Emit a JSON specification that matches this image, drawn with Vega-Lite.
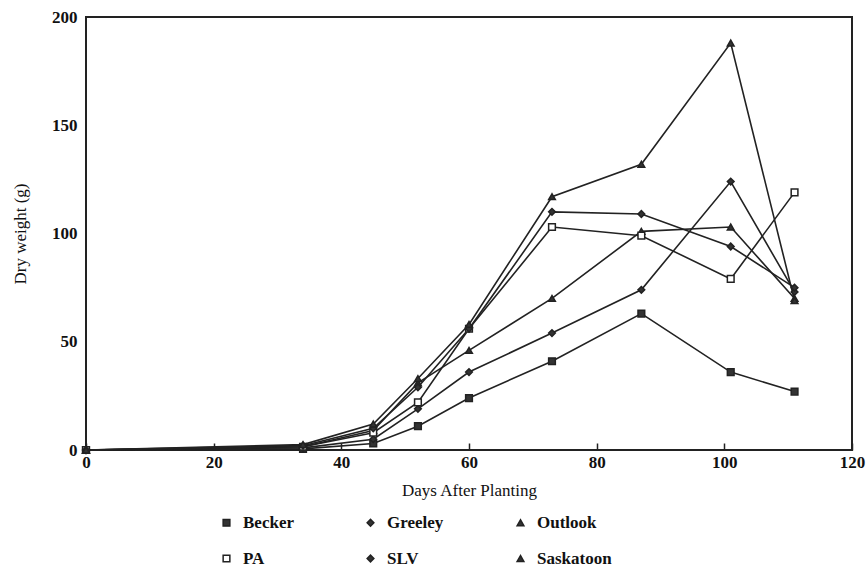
{
  "$schema": "https://vega.github.io/schema/vega-lite/v6.json",
  "width": 766,
  "height": 433,
  "padding": {"left": 86, "top": 17, "right": 16, "bottom": 136},
  "autosize": {"type": "none"},
  "background": "white",
  "config": {
    "font": "Liberation Serif",
    "view": {"stroke": "#222", "strokeWidth": 2},
    "axis": {"labelFont": "Liberation Serif", "titleFont": "Liberation Serif", "labelFontSize": 17, "titleFontSize": 17, "labelColor": "#111", "titleColor": "#111", "titleFontWeight": "normal", "labelFontWeight": "bold", "grid": false, "domain": false},
    "legend": {"labelFont": "Liberation Serif", "labelFontSize": 17, "labelFontWeight": "bold", "labelColor": "#111"}
  },
  "data": {"values": [
    {"site": "Becker", "day": 0, "weight": 0}, {"site": "Becker", "day": 34, "weight": 0.5}, {"site": "Becker", "day": 45, "weight": 3}, {"site": "Becker", "day": 52, "weight": 11}, {"site": "Becker", "day": 60, "weight": 24}, {"site": "Becker", "day": 73, "weight": 41}, {"site": "Becker", "day": 87, "weight": 63}, {"site": "Becker", "day": 101, "weight": 36}, {"site": "Becker", "day": 111, "weight": 27},
    {"site": "Greeley", "day": 0, "weight": 0}, {"site": "Greeley", "day": 34, "weight": 1}, {"site": "Greeley", "day": 45, "weight": 5}, {"site": "Greeley", "day": 52, "weight": 19}, {"site": "Greeley", "day": 60, "weight": 36}, {"site": "Greeley", "day": 73, "weight": 54}, {"site": "Greeley", "day": 87, "weight": 74}, {"site": "Greeley", "day": 101, "weight": 124}, {"site": "Greeley", "day": 111, "weight": 73},
    {"site": "Outlook", "day": 0, "weight": 0}, {"site": "Outlook", "day": 34, "weight": 1.5}, {"site": "Outlook", "day": 45, "weight": 9}, {"site": "Outlook", "day": 52, "weight": 31}, {"site": "Outlook", "day": 60, "weight": 46}, {"site": "Outlook", "day": 73, "weight": 70}, {"site": "Outlook", "day": 87, "weight": 101}, {"site": "Outlook", "day": 101, "weight": 103}, {"site": "Outlook", "day": 111, "weight": 70},
    {"site": "PA", "day": 0, "weight": 0}, {"site": "PA", "day": 34, "weight": 1.5}, {"site": "PA", "day": 45, "weight": 8}, {"site": "PA", "day": 52, "weight": 22}, {"site": "PA", "day": 60, "weight": 56}, {"site": "PA", "day": 73, "weight": 103}, {"site": "PA", "day": 87, "weight": 99}, {"site": "PA", "day": 101, "weight": 79}, {"site": "PA", "day": 111, "weight": 119},
    {"site": "SLV", "day": 0, "weight": 0}, {"site": "SLV", "day": 34, "weight": 2}, {"site": "SLV", "day": 45, "weight": 10}, {"site": "SLV", "day": 52, "weight": 29}, {"site": "SLV", "day": 60, "weight": 56}, {"site": "SLV", "day": 73, "weight": 110}, {"site": "SLV", "day": 87, "weight": 109}, {"site": "SLV", "day": 101, "weight": 94}, {"site": "SLV", "day": 111, "weight": 75},
    {"site": "Saskatoon", "day": 0, "weight": 0}, {"site": "Saskatoon", "day": 34, "weight": 2.5}, {"site": "Saskatoon", "day": 45, "weight": 12}, {"site": "Saskatoon", "day": 52, "weight": 33}, {"site": "Saskatoon", "day": 60, "weight": 58}, {"site": "Saskatoon", "day": 73, "weight": 117}, {"site": "Saskatoon", "day": 87, "weight": 132}, {"site": "Saskatoon", "day": 101, "weight": 188}, {"site": "Saskatoon", "day": 111, "weight": 69}
  ]},
  "encoding": {
    "x": {"field": "day", "type": "quantitative", "scale": {"domain": [0, 120], "nice": false}, "axis": {"values": [0, 20, 40, 60, 80, 100, 120], "title": "Days After Planting", "tickSize": -7, "tickColor": "#222", "tickWidth": 1.5, "labelPadding": 11, "titlePadding": 12, "labelFlush": false}},
    "y": {"field": "weight", "type": "quantitative", "scale": {"domain": [0, 200], "nice": false}, "axis": {"values": [0, 50, 100, 150, 200], "title": "Dry weight (g)", "ticks": false, "labelPadding": 9, "titlePadding": 22, "labelFlush": false}}
  },
  "layer": [
    {"mark": {"type": "line", "color": "#222", "strokeWidth": 1.6}, "encoding": {"detail": {"field": "site"}}},
    {"mark": {"type": "point", "stroke": "#222", "strokeWidth": 1.5, "opacity": 1},
     "encoding": {
       "shape": {"field": "site", "type": "nominal", "title": null, "scale": {"domain": ["Becker", "Greeley", "Outlook", "PA", "SLV", "Saskatoon"], "range": ["square", "diamond", "triangle-up", "square", "diamond", "triangle-up"]},
         "legend": {"orient": "none", "legendX": 132, "legendY": 497, "columns": 3, "direction": "horizontal", "symbolStrokeColor": "#222", "rowPadding": 18, "columnPadding": 68, "labelOffset": 8}},
       "fill": {"field": "site", "type": "nominal", "title": null, "scale": {"domain": ["Becker", "Greeley", "Outlook", "PA", "SLV", "Saskatoon"], "range": ["#333", "#333", "#333", "white", "#333", "#333"]}},
       "size": {"field": "site", "type": "nominal", "title": null, "scale": {"domain": ["Becker", "Greeley", "Outlook", "PA", "SLV", "Saskatoon"], "range": [45, 45, 55, 80, 110, 130]}}
     }}
  ]
}
